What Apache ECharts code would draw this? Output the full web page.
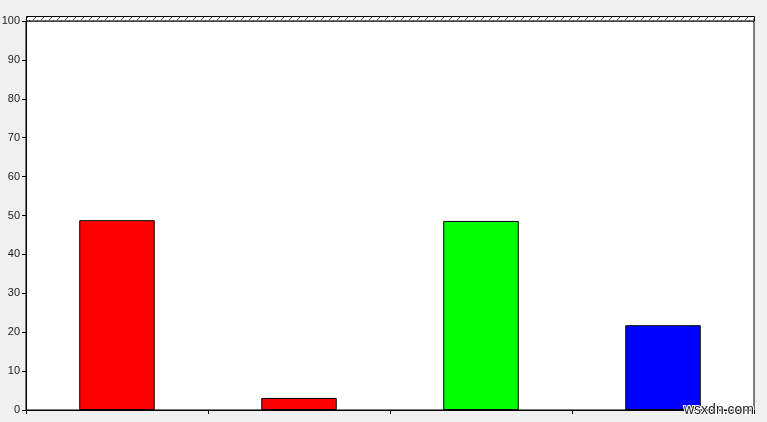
<!DOCTYPE html>
<html>
<head>
<meta charset="utf-8">
<script src="https://cdn.jsdelivr.net/npm/echarts@6/dist/echarts.min.js"></script>
<style>
html,body{margin:0;padding:0;background:#f0f0f0;}
#c{width:767px;height:422px;}
</style>
</head>
<body>
<div id="c"></div>
<script>
var categories = ['A', 'B', 'C', 'D'];
var values = [48.8, 3.1, 48.6, 21.8];
var barColors = ['#ff0000', '#ff0000', '#00ff00', '#0000ff'];
var yTicks = [0, 10, 20, 30, 40, 50, 60, 70, 80, 90, 100];

var pc = document.createElement('canvas');
pc.width = 8; pc.height = 5;
var g = pc.getContext('2d');
g.fillStyle = '#ffffff'; g.fillRect(0, 0, 8, 5);
g.strokeStyle = '#555555'; g.lineWidth = 1;
g.beginPath(); g.moveTo(1, 5); g.lineTo(6, 0); g.stroke();

var chart = echarts.init(document.getElementById('c'));
chart.setOption({
  backgroundColor: '#f0f0f0',
  animation: false,
  textStyle: { fontFamily: 'Liberation Sans, Arial, sans-serif' },
  grid: { left: 26, right: 13, top: 21, bottom: 12, containLabel: false, outerBoundsMode: 'none',
          show: true, backgroundColor: '#ffffff', borderColor: '#000000', borderWidth: 1 },
  xAxis: {
    type: 'category', data: categories, boundaryGap: true,
    axisLine: { lineStyle: { color: '#000', width: 1 } },
    axisTick: { show: true, length: 4, lineStyle: { color: '#000' } },
    axisLabel: { show: false }, splitLine: { show: false }
  },
  yAxis: {
    type: 'value', min: yTicks[0], max: yTicks[yTicks.length - 1], interval: 10,
    axisLine: { show: true, lineStyle: { color: '#000', width: 1 } },
    axisTick: { show: true, length: 4, lineStyle: { color: '#000' } },
    axisLabel: { color: '#222', fontSize: 11, margin: 6 },
    splitLine: { show: false }
  },
  series: [{
    type: 'bar', barWidth: '41.5%',
    data: values.map(function (v, i) {
      return { value: v, itemStyle: { color: barColors[i], borderColor: '#000', borderWidth: 1 } };
    })
  }],
  graphic: [
    { type: 'rect', shape: { x: 26.5, y: 16.5, width: 728, height: 4.5 },
      style: { fill: { image: pc, repeat: 'repeat' }, stroke: '#000', lineWidth: 1 }, z: 10 },
    { type: 'text', right: 12, bottom: 4,
      style: { text: 'wsxdn.com', fill: '#222', font: '14px Liberation Sans, Arial, sans-serif', stroke: '#fff', lineWidth: 2 }, z: 20 }
  ]
});
</script>
</body>
</html>
